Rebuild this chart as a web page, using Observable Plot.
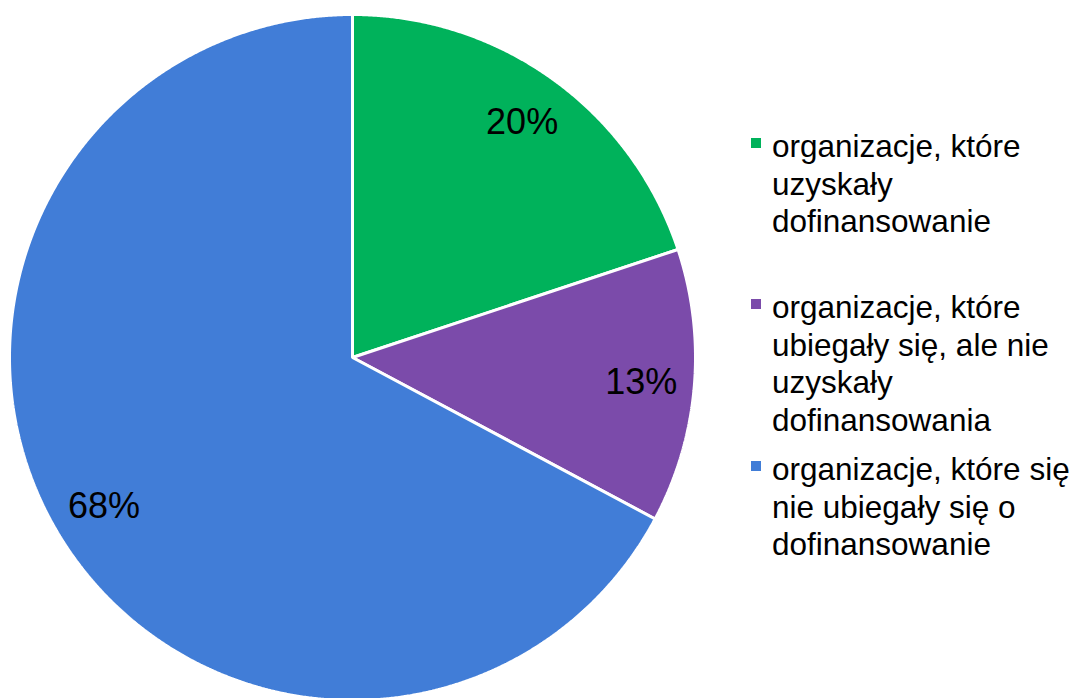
<!DOCTYPE html>
<html>
<head>
<meta charset="utf-8">
<script src="https://cdn.jsdelivr.net/npm/d3@7"></script>
<script src="https://cdn.jsdelivr.net/npm/@observablehq/plot@0.6"></script>
<style>
  html, body { margin: 0; padding: 0; background: #fff; }
  #wrap { position: relative; width: 1076px; height: 698px; overflow: hidden; font-family: "Liberation Sans", Arial, sans-serif; }
  #legend { position: absolute; left: 0; top: 0; }
  .entry { position: absolute; left: 772px; font-size: 31.5px; line-height: 37.5px; color: #000; white-space: nowrap; }
  .sw { position: absolute; width: 10px; height: 10px; }
</style>
</head>
<body>
<div id="wrap"></div>
<script>
// Data
const categories = [
  "organizacje, które uzyskały dofinansowanie",
  "organizacje, które ubiegały się, ale nie uzyskały dofinansowania",
  "organizacje, które się nie ubiegały się o dofinansowanie"
];
const values = [19.9, 12.9, 67.2];
const valueLabels = ["20%", "13%", "68%"];
const colors = ["#00B25B", "#7B4BAA", "#417DD7"];
const legendLines = [
  ["organizacje, które", "uzyskały", "dofinansowanie"],
  ["organizacje, które", "ubiegały się, ale nie", "uzyskały", "dofinansowania"],
  ["organizacje, które się", "nie ubiegały się o", "dofinansowanie"]
];

// Layout
const W = 1076, H = 698;
const cx = 352, cy = 357, R = 343;

const pie = d3.pie().sort(null).value(d => d.value);
const arcs = pie(categories.map((c, i) => ({key: c, value: values[i], label: valueLabels[i]})));

// Build slice polygons in unit coords (y up), angle clockwise from 12 o'clock
const polys = [];
arcs.forEach(a => {
  const k = a.data.key;
  polys.push({key: k, x: 0, y: 0});
  const steps = Math.max(2, Math.ceil((a.endAngle - a.startAngle) / (Math.PI / 720)));
  for (let s = 0; s <= steps; s++) {
    const t = a.startAngle + (a.endAngle - a.startAngle) * s / steps;
    polys.push({key: k, x: Math.sin(t), y: Math.cos(t)});
  }
});
const labelPts = arcs.map(a => {
  const m = (a.startAngle + a.endAngle) / 2;
  return {label: a.data.label, x: 0.845 * Math.sin(m), y: 0.845 * Math.cos(m)};
});

const chart = Plot.plot({
  width: W, height: H,
  margin: 0,
  style: {background: "transparent", fontFamily: "Liberation Sans, Arial, sans-serif"},
  x: {domain: [-cx / R, (W - cx) / R], axis: null},
  y: {domain: [-(H - cy) / R, cy / R], axis: null},
  color: {domain: categories, range: colors},
  marks: [
    Plot.line(polys, {x: "x", y: "y", z: "key", fill: "key", stroke: "white", strokeWidth: 3, curve: "linear-closed", strokeLinejoin: "miter"}),
    Plot.text(labelPts, {x: "x", y: "y", text: "label", fontSize: 36, fill: "#000"})
  ]
});
const wrap = document.getElementById("wrap");
wrap.appendChild(chart);

// Legend
const legend = document.createElement("div");
legend.id = "legend";
const tops = [128, 289, 451];
legendLines.forEach((lines, i) => {
  const e = document.createElement("div");
  e.className = "entry";
  e.style.top = tops[i] + "px";
  e.innerHTML = lines.join("<br>");
  legend.appendChild(e);
  const sw = document.createElement("div");
  sw.className = "sw";
  sw.style.left = "751px";
  sw.style.top = (tops[i] + 10) + "px";
  sw.style.background = colors[i];
  legend.appendChild(sw);
});
wrap.appendChild(legend);
</script>
</body>
</html>
